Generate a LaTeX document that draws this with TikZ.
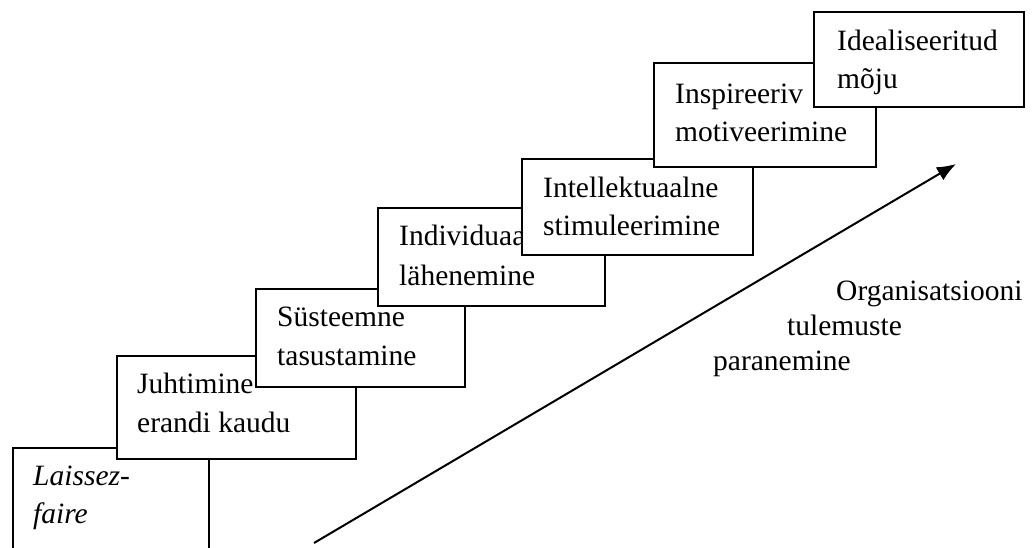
\documentclass[tikz,border=0pt]{standalone}
\usepackage{fontspec}
\setmainfont{Liberation Serif}
\usetikzlibrary{arrows.meta}
\begin{document}
\begin{tikzpicture}[x=1pt,y=-1pt,
  stepbox/.style={draw, line width=1.8pt, fill=white, anchor=north west, inner sep=0pt, outer sep=0pt},
  lbl/.style={anchor=base west, inner sep=0pt, font=\fontsize{29.5}{36}\selectfont}]
\useasboundingbox (0,0) rectangle (1034,547);
\clip (0,0) rectangle (1034,547);
% step 1
\node[stepbox, minimum width=196pt, minimum height=130pt] (b1) at (13,448) {};
\node[lbl] (t1a) at (33,485) {\itshape Laissez-};
\node[lbl] (t1b) at (33,523) {\itshape faire};
% step 2
\node[stepbox, minimum width=239pt, minimum height=103pt] (b2) at (117,356) {};
\node[lbl] (t2a) at (137,393) {Juhtimine};
\node[lbl] (t2b) at (137,432) {erandi kaudu};
% step 3
\node[stepbox, minimum width=209pt, minimum height=98pt] (b3) at (256,289) {};
\node[lbl] (t3a) at (277,326) {Süsteemne};
\node[lbl] (t3b) at (277,365) {tasustamine};
% step 4
\node[stepbox, minimum width=227pt, minimum height=98pt] (b4) at (378,208) {};
\node[lbl] (t4a) at (399,245) {Individuaalne};
\node[lbl] (t4b) at (399,285) {lähenemine};
% step 5
\node[stepbox, minimum width=231pt, minimum height=96pt] (b5) at (522,159) {};
\node[lbl] (t5a) at (543,197) {Intellektuaalne};
\node[lbl] (t5b) at (543,235) {stimuleerimine};
% step 6
\node[stepbox, minimum width=222pt, minimum height=104pt] (b6) at (654,63) {};
\node[lbl] (t6a) at (675,103) {Inspireeriv};
\node[lbl] (t6b) at (675,141) {motiveerimine};
% step 7
\node[stepbox, minimum width=210pt, minimum height=95pt] (b7) at (814,12) {};
\node[lbl] (t7a) at (837,50) {Idealiseeritud};
\node[lbl] (t7b) at (837,88) {mõju};
% arrow
\coordinate (as) at (314,543);
\coordinate (ae) at (956,164);
\draw[line width=2pt, -{Latex[length=19pt,width=15pt]}] (as) -- (ae);
% label
\node[lbl] (o1) at (836,300) {Organisatsiooni};
\node[lbl] (o2) at (787,335) {tulemuste};
\node[lbl] (o3) at (713,370) {paranemine};
\end{tikzpicture}
\end{document}
